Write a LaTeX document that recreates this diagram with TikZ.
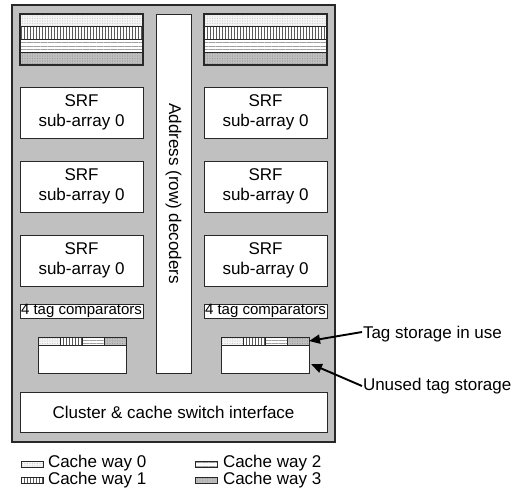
\documentclass[tikz,border=0pt]{standalone}
\usepackage{fontspec}
\setmainfont{Liberation Sans}
\usetikzlibrary{patterns.meta,arrows.meta}
\definecolor{chipgray}{RGB}{192,192,192}
\definecolor{edge}{RGB}{40,40,40}
\begin{document}
\begin{tikzpicture}[x=1pt,y=-1pt,
  every node/.style={inner sep=0pt, outer sep=0pt, font=\fontsize{17pt}{19.5pt}\selectfont},
  box/.style={draw=edge, line width=0.9pt, fill=white, rectangle},
  stripe/.style={draw=edge, line width=1.3pt, rectangle},
  seg/.style={draw=edge, line width=0.9pt, rectangle, minimum width=22pt, minimum height=8pt},
  leg/.style={draw=edge, line width=0.7pt, rectangle, minimum width=22pt, minimum height=6pt},
  w0/.style={preaction={fill=gray!8}, pattern={Dots[distance=2.5pt, radius=0.7pt]}, pattern color=gray!40},
  w1/.style={preaction={fill=white}, pattern={Lines[angle=90, distance=3pt, line width=1pt]}, pattern color=black!65},
  w2/.style={preaction={fill=white}, pattern={Lines[angle=0, distance=3.5pt, line width=0.9pt]}, pattern color=gray!75},
  w3/.style={preaction={fill=gray!50}, pattern={Dots[distance=2.5pt, radius=0.7pt]}, pattern color=gray!80},
  arr/.style={draw=black, line width=1.9pt, -{Triangle[length=11pt,width=9pt]}},
]
\useasboundingbox (0,0) rectangle (516,501);

% chip outline
\node[draw=edge, line width=1.2pt, fill=chipgray, rectangle, minimum width=323pt, minimum height=437pt] (chip) at (173.5,223.5) {};

% top stripes left
\node[stripe, w0, minimum width=123pt, minimum height=12.75pt] (LS0) at (81.5,20.4) {};
\node[stripe, w1, minimum width=123pt, minimum height=12.75pt] (LS1) at (81.5,33.1) {};
\node[stripe, w2, minimum width=123pt, minimum height=12.75pt] (LS2) at (81.5,45.9) {};
\node[stripe, w3, minimum width=123pt, minimum height=12.75pt] (LS3) at (81.5,58.6) {};
% top stripes right
\node[stripe, w0, minimum width=123pt, minimum height=12.75pt] (RS0) at (265.5,20.4) {};
\node[stripe, w1, minimum width=123pt, minimum height=12.75pt] (RS1) at (265.5,33.1) {};
\node[stripe, w2, minimum width=123pt, minimum height=12.75pt] (RS2) at (265.5,45.9) {};
\node[stripe, w3, minimum width=123pt, minimum height=12.75pt] (RS3) at (265.5,58.6) {};

% address decoders
\node[box, rotate=-90, minimum width=359pt, minimum height=35pt] (dec) at (173.5,193.5) {Address (row) decoders};

% SRF sub-arrays
\node[box, align=center, minimum width=123pt, minimum height=51pt] (SL1) at (81.5,112.5) {SRF\\sub-array 0};
\node[box, align=center, minimum width=123pt, minimum height=51pt] (SL2) at (81.5,186.5) {SRF\\sub-array 0};
\node[box, align=center, minimum width=123pt, minimum height=51pt] (SL3) at (81.5,260.5) {SRF\\sub-array 0};
\node[box, align=center, minimum width=123pt, minimum height=51pt] (SR1) at (265.5,112.5) {SRF\\sub-array 0};
\node[box, align=center, minimum width=123pt, minimum height=51pt] (SR2) at (265.5,186.5) {SRF\\sub-array 0};
\node[box, align=center, minimum width=123pt, minimum height=51pt] (SR3) at (265.5,260.5) {SRF\\sub-array 0};

% comparators
\node[box, font=\fontsize{15pt}{17pt}\selectfont, minimum width=123pt, minimum height=14pt] (CL) at (81.5,311) {4 tag comparators};
\node[box, font=\fontsize{15pt}{17pt}\selectfont, minimum width=123pt, minimum height=14pt] (CR) at (265.5,311) {4 tag comparators};

% tag storage left
\node[box, minimum width=88pt, minimum height=36pt] (TLbox) at (82,355) {};
\node[seg, w0] (TL0) at (49,341) {};
\node[seg, w1] (TL1) at (71,341) {};
\node[seg, w2] (TL2) at (93,341) {};
\node[seg, w3] (TL3) at (115,341) {};
% tag storage right
\node[box, minimum width=88pt, minimum height=36pt] (TRbox) at (265,355) {};
\node[seg, w0] (TR0) at (232,341) {};
\node[seg, w1] (TR1) at (254,341) {};
\node[seg, w2] (TR2) at (276,341) {};
\node[seg, w3] (TR3) at (298,341) {};

% cluster interface
\node[box, minimum width=307pt, minimum height=40pt] (clu) at (173.5,412) {Cluster \& cache switch interface};

% annotations
\node[anchor=base west] (lab1) at (363,338.5) {Tag storage in use};
\node[anchor=base west] (lab2) at (363,390) {Unused tag storage};
\coordinate (a1) at (362,332);
\coordinate (a2) at (362,386);
\coordinate (a2e) at (311,364);
\draw[arr] (a1) -- (TR3.east);
\draw[arr] (a2) -- (a2e);

% legend
\node[leg, w0] (K0) at (32,464) {};
\node[leg, w1] (K1) at (32,480.5) {};
\node[leg, w2] (K2) at (206.5,464) {};
\node[leg, w3] (K3) at (206.5,480.5) {};
\node[anchor=base west] (T0) at (48,467) {Cache way 0};
\node[anchor=base west] (T1) at (48,484) {Cache way 1};
\node[anchor=base west] (T2) at (223,467) {Cache way 2};
\node[anchor=base west] (T3) at (223,484) {Cache way 3};
\end{tikzpicture}
\end{document}
